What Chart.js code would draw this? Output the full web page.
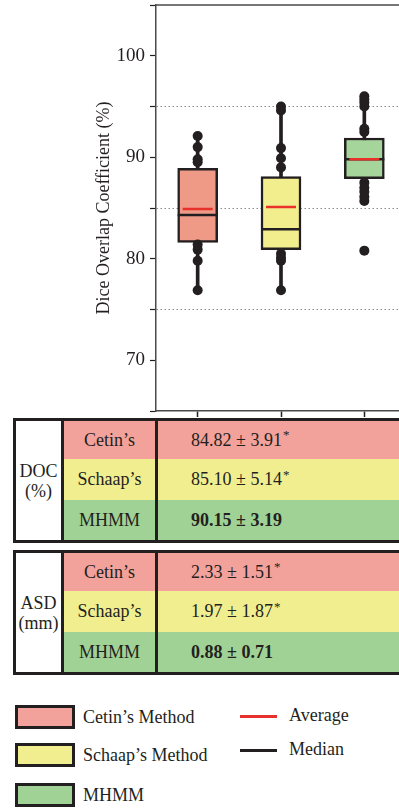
<!DOCTYPE html>
<html>
<head>
<meta charset="utf-8">
<script src="https://cdn.jsdelivr.net/npm/chart.js@4/dist/chart.umd.min.js"></script>
<style>
    body {
        margin: 0;
        width: 399px;
        height: 810px;
        overflow: hidden;
        position: relative;
        background: #fff;
        font-family: 'Liberation Serif', 'DejaVu Serif', serif;
        color: #231f20;
    }
    #chart-box {
        position: absolute;
        left: 0;
        top: 0;
        width: 406px;
        height: 418px;
    }
    .block {
        position: absolute;
        left: 13px;
        width: 400px;
        height: 125px;
        box-sizing: border-box;
        border: 3px solid #231f20;
        display: grid;
        grid-template-columns: 48px 94px 1fr;
        grid-template-rows: 38px 41px 1fr;
        font-size: 18px;
    }
    .block .label {
        grid-row: 1 / 4;
        border-right: 3px solid #231f20;
        background: #fff;
        display: flex;
        align-items: center;
        justify-content: center;
        text-align: center;
        line-height: 20px;
    }
    .block .name {
        border-right: 3px solid #231f20;
        display: flex;
        align-items: center;
        justify-content: center;
    }
    .block .value {
        display: flex;
        align-items: center;
        padding-left: 33px;
        white-space: nowrap;
    }
    .block sup {
        font-size: 13px;
        line-height: 0;
        position: relative;
        top: -5px;
        margin-left: 1px;
    }
    .swatch {
        position: absolute;
        left: 15px;
        width: 60px;
        height: 24px;
        box-sizing: border-box;
        border: 3px solid #231f20;
    }
    .legend-text {
        position: absolute;
        font-size: 18px;
        line-height: 20px;
        white-space: nowrap;
    }
    .legend-line {
        position: absolute;
        left: 240px;
        width: 37px;
        height: 3px;
    }
</style>
</head>
<body>
<div id="chart-box"><canvas id="box-chart"></canvas></div>
<div id="tables"></div>
<div id="legend"></div>

<script>
const methods = ["Cetin’s", "Schaap’s", "MHMM"];
const legendNames = ["Cetin’s Method", "Schaap’s Method", "MHMM"];

// box plot stats (DOC, %)
const q1 = [81.6, 80.9, 87.9];
const q3 = [88.9, 88.1, 91.9];
const medians = [84.3, 82.9, 89.8];
const means = [84.9, 85.1, 89.8];
const whiskerLow = [76.9, 76.9, 85.7];
const whiskerHigh = [92.1, 95.0, 96.0];

// individual dots drawn along the whiskers
const cetinPoints = [92.1, 91.0, 89.8, 89.5, 81.4, 80.9, 79.8, 76.9];
const schaapPoints = [95.0, 94.6, 90.9, 89.9, 89.0, 80.5, 80.1, 79.8, 76.9];
const mhmmPoints = [96.0, 95.7, 95.4, 95.0, 92.8, 92.5, 87.5, 87.0, 86.6, 86.1, 85.7, 80.8];

// table values
const docValues = ['84.82 ± 3.91', '85.10 ± 5.14', '90.15 ± 3.19'];
const asdValues = ['2.33 ± 1.51', '1.97 ± 1.87', '0.88 ± 0.71'];
const significant = [true, true, false];

const boxColors = ['#ee9a87', '#f2ee8e', '#a5d59a'];
const tableColors = ['#f3a29b', '#f1ee90', '#a1d295'];
const dark = '#231f20';
const meanRed = '#e8312a';

const serif = "'Liberation Serif', 'DejaVu Serif', serif";

function createChart() {
    const ctx = document.getElementById('box-chart').getContext('2d');

    const dots = [];
    [cetinPoints, schaapPoints, mhmmPoints].forEach((pts, i) => {
        pts.forEach(v => dots.push({ x: methods[i], y: v }));
    });

    // top frame line of the plot
    const topFrame = {
        id: 'topFrame',
        afterDraw(chart) {
            const { ctx, chartArea } = chart;
            ctx.save();
            ctx.strokeStyle = '#4a4a4a';
            ctx.lineWidth = 1.5;
            ctx.beginPath();
            ctx.moveTo(chartArea.left, chartArea.top);
            ctx.lineTo(chartArea.right + 10, chartArea.top);
            ctx.stroke();
            ctx.restore();
        }
    };

    const data = {
        labels: methods,
        datasets: [
            {
                type: 'line',
                label: 'Dots',
                data: dots,
                showLine: false,
                pointRadius: 5,
                pointBackgroundColor: dark,
                pointBorderWidth: 0,
                order: 0,
            },
            {
                type: 'line',
                label: 'Average',
                data: means,
                showLine: false,
                pointStyle: 'line',
                pointRadius: 15,
                pointBorderColor: meanRed,
                pointBorderWidth: 2.5,
                order: 1,
            },
            {
                type: 'line',
                label: 'Median',
                data: medians,
                showLine: false,
                pointStyle: 'line',
                pointRadius: 20,
                pointBorderColor: dark,
                pointBorderWidth: 2.5,
                order: 2,
            },
            {
                type: 'bar',
                label: 'Box',
                data: methods.map((m, i) => [q1[i], q3[i]]),
                backgroundColor: boxColors,
                borderColor: dark,
                borderWidth: 2.5,
                borderSkipped: false,
                barThickness: 40,
                grouped: false,
                order: 3,
            },
            {
                type: 'bar',
                label: 'Whisker',
                data: methods.map((m, i) => [whiskerLow[i], whiskerHigh[i]]),
                backgroundColor: dark,
                barThickness: 3,
                grouped: false,
                order: 4,
            },
        ],
    };

    const options = {
        responsive: true,
        maintainAspectRatio: false,
        animation: false,
        events: [],
        layout: {
            autoPadding: false,
            padding: { left: 90, top: 5, right: 0, bottom: 1 }
        },
        plugins: {
            legend: { display: false },
            tooltip: { enabled: false },
        },
        scales: {
            x: {
                type: 'category',
                offset: true,
                ticks: { display: false },
                grid: {
                    offset: false,
                    drawOnChartArea: false,
                    drawTicks: true,
                    tickLength: 6,
                    tickColor: dark,
                    tickWidth: 1.5,
                },
                border: { color: '#4a4a4a', width: 1.5 },
            },
            y: {
                min: 65,
                max: 105,
                afterFit(scale) {
                    scale.width = 66;
                    scale.paddingTop = 0;
                    scale.paddingBottom = 0;
                },
                ticks: {
                    stepSize: 5,
                    padding: 5,
                    color: dark,
                    font: { family: serif, size: 19 },
                    callback: (v) => v % 10 === 0 ? v : '',
                },
                grid: {
                    color: (c) => [75, 85, 95].includes(c.tick && c.tick.value) ? '#8a8a8a' : 'transparent',
                    lineWidth: 1,
                    tickLength: 6,
                    tickColor: dark,
                    tickWidth: 1.2,
                },
                border: { color: '#4a4a4a', width: 1.5, dash: [1.5, 2.5] },
                title: {
                    display: true,
                    text: 'Dice Overlap Coefficient (%)',
                    color: dark,
                    font: { family: serif, size: 18 },
                    padding: { top: 3, bottom: 4 },
                },
            },
        },
    };

    return new Chart(ctx, {
        type: 'bar',
        data: data,
        options: options,
        plugins: [topFrame],
    });
}

function createBlock(top, labelHtml, values) {
    const block = document.createElement('div');
    block.className = 'block';
    block.style.top = top + 'px';

    const label = document.createElement('div');
    label.className = 'label';
    label.innerHTML = labelHtml;
    block.appendChild(label);

    methods.forEach((m, i) => {
        const name = document.createElement('div');
        name.className = 'name';
        name.style.background = tableColors[i];
        name.style.gridRow = String(i + 1);
        name.style.gridColumn = '2';
        name.textContent = m;
        block.appendChild(name);

        const value = document.createElement('div');
        value.className = 'value';
        value.style.background = tableColors[i];
        value.style.gridRow = String(i + 1);
        value.style.gridColumn = '3';
        if (significant[i]) {
            value.innerHTML = values[i] + '<sup>*</sup>';
        } else {
            value.innerHTML = '<b>' + values[i] + '</b>';
        }
        block.appendChild(value);
    });

    document.getElementById('tables').appendChild(block);
}

function createLegend() {
    const legend = document.getElementById('legend');
    const swatchTops = [705, 743, 783];

    legendNames.forEach((name, i) => {
        const sw = document.createElement('div');
        sw.className = 'swatch';
        sw.style.top = swatchTops[i] + 'px';
        sw.style.background = tableColors[i];
        legend.appendChild(sw);

        const txt = document.createElement('div');
        txt.className = 'legend-text';
        txt.style.left = '83px';
        txt.style.top = (swatchTops[i] + 2) + 'px';
        txt.textContent = name;
        legend.appendChild(txt);
    });

    const lines = [['Average', meanRed, 715], ['Median', dark, 749]];
    lines.forEach(([text, color, y]) => {
        const line = document.createElement('div');
        line.className = 'legend-line';
        line.style.top = y + 'px';
        line.style.background = color;
        legend.appendChild(line);

        const txt = document.createElement('div');
        txt.className = 'legend-text';
        txt.style.left = '289px';
        txt.style.top = (y - 10) + 'px';
        txt.textContent = text;
        legend.appendChild(txt);
    });
}

createChart();
createBlock(418, 'DOC<br>(%)', docValues);
createBlock(550, 'ASD<br>(mm)', asdValues);
createLegend();
</script>
</body>
</html>
